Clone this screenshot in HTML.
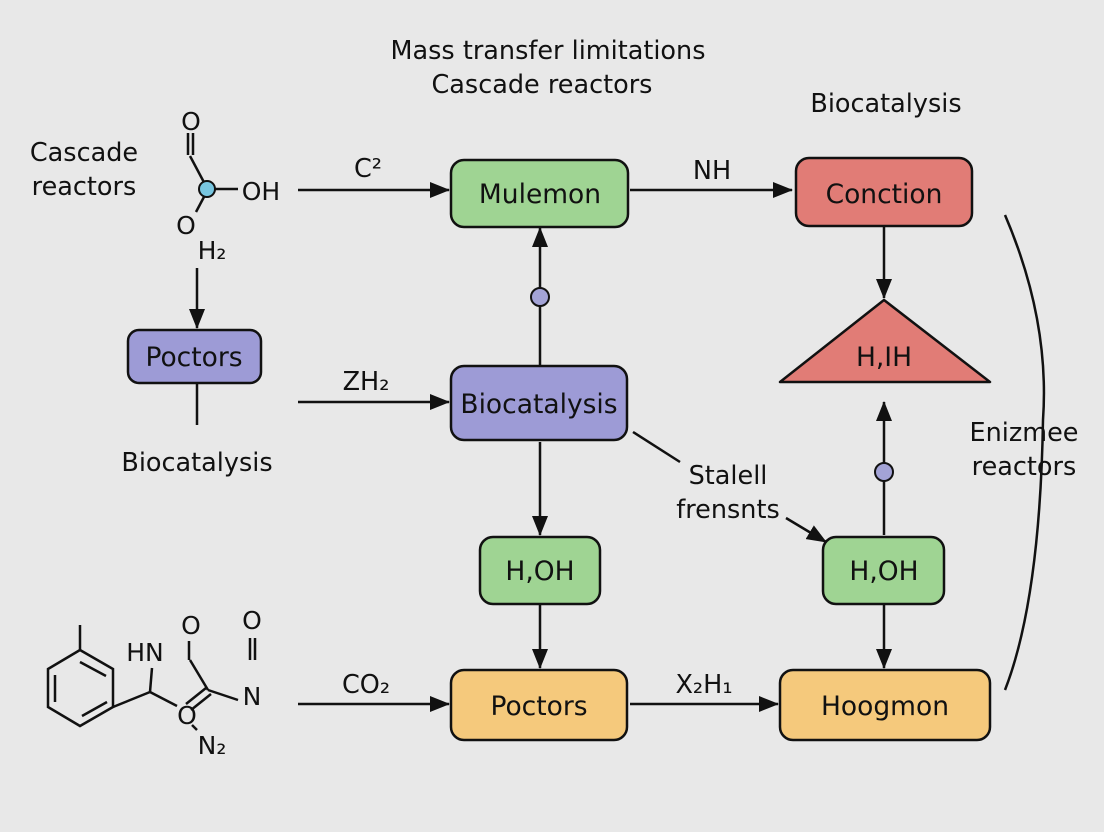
<!DOCTYPE html>
<html><head><meta charset="utf-8"><style>
body{margin:0;background:#e8e8e8;}
svg{display:block;font-family:"DejaVu Sans","Liberation Sans",sans-serif;}
text{fill:#111;}
</style></head><body>
<svg width="1104" height="832" viewBox="0 0 1104 832" xmlns="http://www.w3.org/2000/svg">
<defs>
<marker id="b" markerWidth="20" markerHeight="16" refX="19" refY="8" orient="auto" markerUnits="userSpaceOnUse"><path d="M0,0 L20,8 L0,16 z" fill="#111"/></marker></defs>
<rect width="1104" height="832" fill="#e8e8e8"/>
<g font-size="25.5" text-anchor="middle">
<text x="548" y="59">Mass transfer limitations</text>
<text x="542" y="93">Cascade reactors</text>
<text x="886" y="112">Biocatalysis</text>
<text x="84" y="161">Cascade</text><text x="84" y="195">reactors</text>
<text x="197" y="471">Biocatalysis</text>
<text x="728" y="484">Stalell</text><text x="728" y="518">frensnts</text>
<text x="1024" y="441">Enizmee</text><text x="1024" y="475">reactors</text>
<text x="368" y="177">C²</text><text x="712" y="179">NH</text>
<text x="366" y="390">ZH₂</text><text x="366" y="693">CO₂</text><text x="704" y="693">X₂H₁</text>
</g>
<g stroke="#111" stroke-width="2.5" fill="none">
<line x1="298" y1="190" x2="449" y2="190" marker-end="url(#b)"/>
<line x1="630" y1="190" x2="792" y2="190" marker-end="url(#b)"/>
<line x1="197" y1="268" x2="197" y2="328" marker-end="url(#b)"/>
<line x1="197" y1="384" x2="197" y2="425"/>
<line x1="298" y1="402" x2="449" y2="402" marker-end="url(#b)"/>
<line x1="540" y1="365" x2="540" y2="228" marker-end="url(#b)"/>
<line x1="540" y1="442" x2="540" y2="535" marker-end="url(#b)"/>
<line x1="540" y1="605" x2="540" y2="668" marker-end="url(#b)"/>
<line x1="298" y1="704" x2="449" y2="704" marker-end="url(#b)"/>
<line x1="630" y1="704" x2="778" y2="704" marker-end="url(#b)"/>
<line x1="884" y1="227" x2="884" y2="298" marker-end="url(#b)"/>
<line x1="884" y1="535" x2="884" y2="402" marker-end="url(#b)"/>
<line x1="884" y1="605" x2="884" y2="668" marker-end="url(#b)"/>
<line x1="633" y1="432" x2="680" y2="462"/>
<line x1="786" y1="518" x2="826" y2="542" marker-end="url(#b)"/>
<path d="M1005,215 Q1050,320 1043,420 Q1040,600 1005,690"/>
</g>
<circle cx="540" cy="297" r="9" fill="#a3a3d6" stroke="#111" stroke-width="2"/>
<circle cx="884" cy="472" r="9" fill="#a3a3d6" stroke="#111" stroke-width="2"/>
<g stroke="#111" stroke-width="2.5">
<rect x="451" y="160" width="177" height="67" rx="13" fill="#9fd493"/>
<rect x="796" y="158" width="176" height="68" rx="13" fill="#e17c76"/>
<rect x="128" y="330" width="133" height="53" rx="11" fill="#9d9bd6"/>
<rect x="451" y="366" width="176" height="74" rx="13" fill="#9d9bd6"/>
<rect x="480" y="537" width="120" height="67" rx="13" fill="#9fd493"/>
<rect x="823" y="537" width="121" height="67" rx="13" fill="#9fd493"/>
<rect x="451" y="670" width="176" height="70" rx="13" fill="#f5c97c"/>
<rect x="780" y="670" width="210" height="70" rx="13" fill="#f5c97c"/>
<polygon points="884,300 990,382 780,382" fill="#e17c76" stroke-linejoin="round"/>
</g>
<g font-size="26.5" text-anchor="middle">
<text x="540" y="203">Mulemon</text><text x="884" y="203">Conction</text>
<text x="194" y="366">Poctors</text><text x="539" y="413">Biocatalysis</text>
<text x="540" y="580">H,OH</text><text x="884" y="580">H,OH</text>
<text x="539" y="715">Poctors</text><text x="885" y="715">Hoogmon</text>
<text x="884" y="366">H,IH</text>
</g>
<g stroke="#111" stroke-width="2.5" fill="none">
<line x1="188" y1="133" x2="188" y2="155"/><line x1="193" y1="133" x2="193" y2="155"/>
<line x1="190" y1="156" x2="207" y2="188"/>
<line x1="214" y1="189" x2="238" y2="189"/>
<line x1="205" y1="195" x2="196" y2="212"/>
</g>
<circle cx="207" cy="189" r="8" fill="#78c6e0" stroke="#111" stroke-width="2"/>
<g font-size="25" text-anchor="middle">
<text x="191" y="130">O</text><text x="261" y="200">OH</text>
<text x="186" y="234">O</text><text x="212" y="259">H₂</text>
</g>
<g stroke="#111" stroke-width="2.5" fill="none">
<polygon points="80,650 113,669 113,707 80,726 48,707 48,669"/>
<line x1="80" y1="662" x2="106" y2="676"/><line x1="55" y1="675" x2="55" y2="702"/><line x1="82" y1="716" x2="107" y2="702"/>
<line x1="80" y1="650" x2="80" y2="625"/>
<line x1="113" y1="707" x2="150" y2="692"/>
<line x1="150" y1="692" x2="152" y2="668"/>
<line x1="150" y1="692" x2="177" y2="706"/>
<line x1="189" y1="641" x2="189" y2="660"/>
<line x1="190" y1="660" x2="208" y2="690"/>
<line x1="208" y1="690" x2="238" y2="700"/>
<line x1="206" y1="688" x2="186" y2="704"/><line x1="211" y1="694" x2="191" y2="710"/>
<line x1="250" y1="638" x2="250" y2="660"/><line x1="255" y1="638" x2="255" y2="660"/>
<line x1="192" y1="725" x2="197" y2="730"/>
</g>
<g font-size="25" text-anchor="middle">
<text x="145" y="661">HN</text><text x="191" y="634">O</text>
<text x="252" y="629">O</text><text x="252" y="705">N</text>
<text x="187" y="724">O</text><text x="212" y="754">N₂</text>
</g>
</svg>
</body></html>
